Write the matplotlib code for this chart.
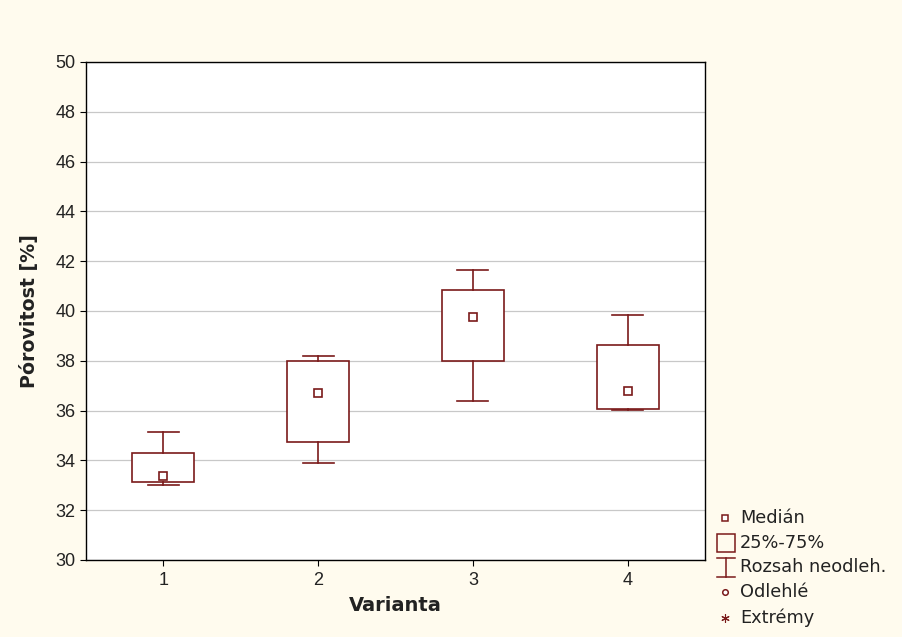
import matplotlib
matplotlib.use("Agg")
import matplotlib.pyplot as plt
from matplotlib.lines import Line2D
from matplotlib.patches import Rectangle

# Summary statistics per variant
variants = ["1", "2", "3", "4"]
whisker_low = [33.0, 33.9, 36.4, 36.02]
q1 = [33.12, 34.73, 38.0, 36.08]
median = [33.38, 36.7, 39.77, 36.79]
q3 = [34.3, 38.0, 40.83, 38.63]
whisker_high = [35.15, 38.2, 41.65, 39.84]

y_ticks = list(range(30, 51, 2))
legend_labels = ["Medián", "25%-75%", "Rozsah neodleh.", "Odlehlé", "Extrémy"]

BOX = "#7a1a1a"
BG = "#fffbee"
TEXT = "#222222"
WIDE = ["DejaVu Sans"]

plt.rcParams["font.family"] = ["Liberation Sans", "DejaVu Sans"]

fig = plt.figure(figsize=(9.02, 6.37), dpi=100, facecolor=BG)
ax = fig.add_axes([0.0953, 0.1209, 0.6863, 0.7818])
ax.set_facecolor("white")

stats = []
for lo, a, m, b, hi in zip(whisker_low, q1, median, q3, whisker_high):
    stats.append({"whislo": lo, "q1": a, "med": m, "q3": b, "whishi": hi, "fliers": []})

positions = list(range(1, len(variants) + 1))
ax.bxp(stats, positions=positions, widths=0.4, capwidths=0.2, patch_artist=True,
       boxprops=dict(facecolor="white", edgecolor=BOX, linewidth=1.2),
       whiskerprops=dict(color=BOX, linewidth=1.2),
       capprops=dict(color=BOX, linewidth=1.2),
       medianprops=dict(visible=False), showfliers=False, zorder=3)
ax.plot(positions, median, "s", mfc="white", mec=BOX, mew=1.2, ms=5.5, ls="none", zorder=4)

ax.set_xlim(0.5, 4.5)
ax.set_ylim(30, 50)
ax.set_xticks(positions)
ax.set_xticklabels(variants)
ax.set_yticks(y_ticks)
ax.yaxis.grid(True, color="#c8c8c8", linewidth=0.9)
ax.set_axisbelow(True)
for s in ax.spines.values():
    s.set_color("black")
    s.set_linewidth(1.0)
ax.tick_params(axis="both", colors="black", labelcolor=TEXT, labelsize=13, length=4, direction="out")
ax.tick_params(axis="x", pad=5)

ax.set_xlabel("Varianta", fontsize=14, fontweight="bold", color=TEXT, labelpad=5, family=WIDE)
ax.set_ylabel("Pórovitost [%]", fontsize=13.7, fontweight="bold", color=TEXT, labelpad=12, family=WIDE)

# Legend drawn outside the axes on the right
W, H = 902, 637
def fx(px):
    return px / W
def fy(py):
    return 1 - py / H

rows_y = [518, 543, 567, 592, 618]
text_x = 740
sym_x = 725
fs = 12.8

fig.add_artist(Line2D([fx(sym_x)], [fy(rows_y[0])], marker="s", ms=4.5, mfc="white",
                      mec=BOX, mew=1.1, ls="none", transform=fig.transFigure))
fig.add_artist(Rectangle((fx(717), fy(552)), fx(735) - fx(717), fy(534) - fy(552),
                         fill=False, ec=BOX, lw=1.1, transform=fig.transFigure))
fig.add_artist(Line2D([fx(726), fx(726)], [fy(558), fy(577)], color=BOX, lw=1.1,
                      transform=fig.transFigure))
fig.add_artist(Line2D([fx(717), fx(735)], [fy(558), fy(558)], color=BOX, lw=1.1,
                      transform=fig.transFigure))
fig.add_artist(Line2D([fx(717), fx(735)], [fy(577), fy(577)], color=BOX, lw=1.1,
                      transform=fig.transFigure))
fig.add_artist(Line2D([fx(sym_x)], [fy(rows_y[3])], marker="o", ms=4, mfc="white",
                      mec=BOX, mew=1.1, ls="none", transform=fig.transFigure))
fig.add_artist(Line2D([fx(sym_x)], [fy(rows_y[4])], marker=(6, 2, 0), ms=6, mfc=BOX,
                      mec=BOX, mew=0.8, ls="none", transform=fig.transFigure))

for lbl, yy in zip(legend_labels, rows_y):
    fig.text(fx(text_x), fy(yy), lbl, fontsize=fs, color=TEXT, va="center", ha="left",
             family=WIDE)

fig.savefig("out.png", dpi=100, facecolor=BG)
